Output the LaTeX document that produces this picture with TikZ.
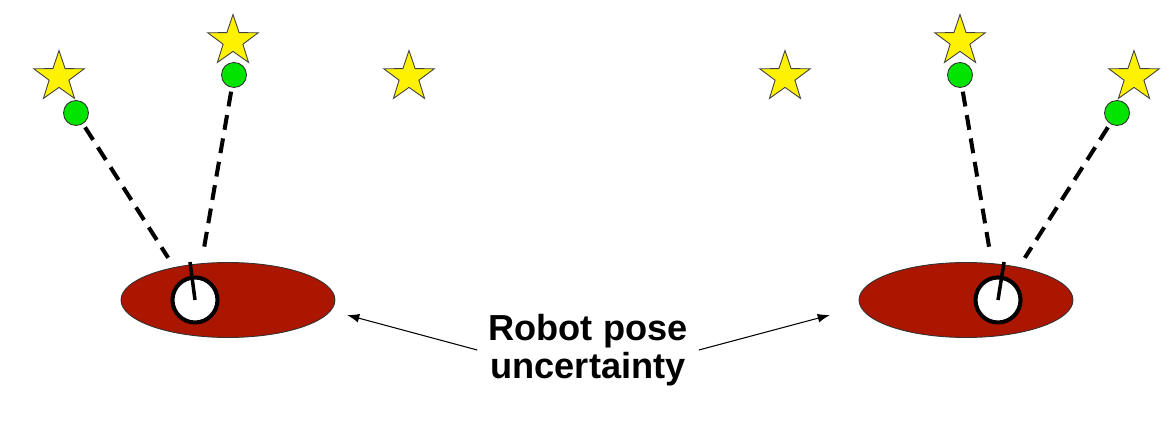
\documentclass[tikz,border=0pt]{standalone}
\usepackage{fontspec}
\setmainfont{Liberation Sans}
\usetikzlibrary{shapes.geometric,arrows.meta}
\definecolor{uncred}{RGB}{170,22,0}
\definecolor{lmgreen}{RGB}{0,228,0}
\definecolor{staryellow}{RGB}{255,242,0}
\tikzset{
  unc/.style={ellipse,draw=black!80,line width=0.5pt,fill=uncred,minimum width=4.28cm,minimum height=1.5cm,inner sep=0pt},
  robot/.style={circle,draw=black,line width=2.3pt,fill=white,minimum size=0.9cm,inner sep=0pt},
  heading/.style={line width=2pt,black},
  lmk/.style={star,star points=5,star point ratio=2.55,draw=black!75,line width=0.5pt,fill=staryellow,minimum size=1.06cm,inner sep=0pt},
  obs/.style={circle,draw=black!80,line width=0.5pt,fill=lmgreen,minimum size=0.5cm,inner sep=0pt},
  meas/.style={line width=2.3pt,dash pattern=on 8.5pt off 5pt,black},
  callout/.style={line width=0.6pt,-{Latex[length=7pt,width=5pt]}},
  lbl/.style={font=\bfseries\fontsize{20.6}{21.8}\selectfont,align=center,inner sep=0.22cm}
}
\begin{document}
\begin{tikzpicture}[x=0.02cm,y=-0.02cm]
\useasboundingbox (0,0) rectangle (1175,421);
% uncertainty ellipses
\node[unc] (e1) at (228,300) {};
\node[unc] (e2) at (966,300) {};
% robots
\node[robot] (r1) at (195,300) {};
\node[robot] (r2) at (998,300) {};
\coordinate (h1) at (190,262);
\coordinate (h2) at (1004,262);
\draw[heading] (r1.center) -- (h1);
\draw[heading] (r2.center) -- (h2);
% landmarks
\node[lmk] (s1) at (59,77) {};
\node[lmk] (s2) at (233,41) {};
\node[lmk] (s3) at (409,77) {};
\node[lmk] (s4) at (785,77) {};
\node[lmk] (s5) at (960,41) {};
\node[lmk] (s6) at (1134,77) {};
% observations
\node[obs] (g1) at (76,113) {};
\node[obs] (g2) at (234,75) {};
\node[obs] (g5) at (960,75) {};
\node[obs] (g6) at (1117,113) {};
% measurements
\draw[meas,shorten <=0.08cm,shorten >=1.0cm] (g1) -- (r1.center);
\draw[meas,shorten <=0.08cm,shorten >=1.0cm] (g2) -- (r1.center);
\draw[meas,shorten <=0.08cm,shorten >=1.0cm] (g5) -- (r2.center);
\draw[meas,shorten <=0.08cm,shorten >=1.0cm] (g6) -- (r2.center);
% label
\node[lbl] (txt) at (588,350) {Robot pose\\uncertainty};
\coordinate (a1) at (347,315);
\coordinate (a2) at (830,315);
\draw[callout] (txt.west) -- (a1);
\draw[callout] (txt.east) -- (a2);
\end{tikzpicture}
\end{document}
